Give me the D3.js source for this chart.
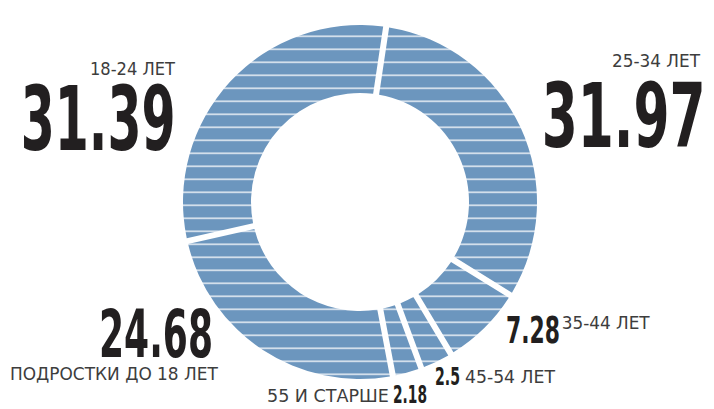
<!DOCTYPE html>
<html><head><meta charset="utf-8">
<script src="https://cdn.jsdelivr.net/npm/d3@7"></script>
<style>html,body{margin:0;padding:0;background:#fff;}svg{display:block;}</style>
</head><body>
<script>
// Data (clockwise from top)
const categories = ["25-34 ЛЕТ", "35-44 ЛЕТ", "45-54 ЛЕТ", "55 И СТАРШЕ", "ПОДРОСТКИ ДО 18 ЛЕТ", "18-24 ЛЕТ"];
const values = [31.97, 7.28, 2.5, 2.18, 24.68, 31.39];
const valueLabels = ["31.97", "7.28", "2.5", "2.18", "24.68", "31.39"];

// Layout (positions/sizes kept separate from the data)
const W = 714, H = 409;
const cx = 360, cy = 202, rOuter = 177, rInner = 109;
const start = 8.5 * Math.PI / 180;
const numLayout = [
  {x: 541.7, y: 146.7, w: 164, fs: 89},
  {x: 506, y: 343.3, w: 54, fs: 37},
  {x: 435, y: 385, w: 25, fs: 25},
  {x: 393, y: 403, w: 34, fs: 24},
  {x: 99, y: 357, w: 114, fs: 65},
  {x: 20.7, y: 150, w: 155, fs: 89}
];
const catLayout = [
  {x: 612, y: 67.3, w: 88},
  {x: 561.7, y: 329.3, w: 88},
  {x: 465, y: 383, w: 90},
  {x: 267, y: 402, w: 122},
  {x: 10, y: 380, w: 208},
  {x: 90, y: 75, w: 85}
];

const svg = d3.select("body").append("svg").attr("width", W).attr("height", H);
const defs = svg.append("defs");
const pat = defs.append("pattern").attr("id", "stripes")
  .attr("patternUnits", "userSpaceOnUse").attr("x", 0).attr("y", 0)
  .attr("width", W).attr("height", 13);
pat.append("rect").attr("width", W).attr("height", 13).attr("fill", "#6c96be");
pat.append("rect").attr("y", 2.4).attr("width", W).attr("height", 1.8).attr("fill", "#d3dfeb");

const pie = d3.pie().sort(null).value(d => d).startAngle(start).endAngle(start + 2 * Math.PI).padAngle(0.034);
const arc = d3.arc().innerRadius(rInner).outerRadius(rOuter).padRadius(rOuter);

const g = svg.append("g").attr("transform", `translate(${cx},${cy})`);
g.selectAll("path").data(pie(values)).join("path")
  .attr("d", arc).attr("fill", "url(#stripes)");

const font = "'Liberation Sans Narrow','DejaVu Sans Condensed',sans-serif";

function fitX(sel, layout) {
  sel.each(function(d, i) {
    const L = layout[i];
    const nat = this.getComputedTextLength();
    const sx = nat > 0 ? L.w / nat : 1;
    d3.select(this).attr("transform", `translate(${L.x},${L.y}) scale(${sx},1)`);
  });
}

const nums = svg.selectAll("text.num").data(valueLabels).join("text").attr("class", "num")
  .attr("x", 0).attr("y", 0)
  .attr("font-family", font).attr("font-weight", "bold")
  .attr("font-size", (d, i) => numLayout[i].fs)
  .attr("fill", "#221f20").text(d => d);
fitX(nums, numLayout);

const cats = svg.selectAll("text.cat").data(categories).join("text").attr("class", "cat")
  .attr("x", 0).attr("y", 0)
  .attr("font-family", font).attr("font-size", 17.5)
  .attr("fill", "#3d3d3d").text(d => d);
fitX(cats, catLayout);
</script>
</body></html>
